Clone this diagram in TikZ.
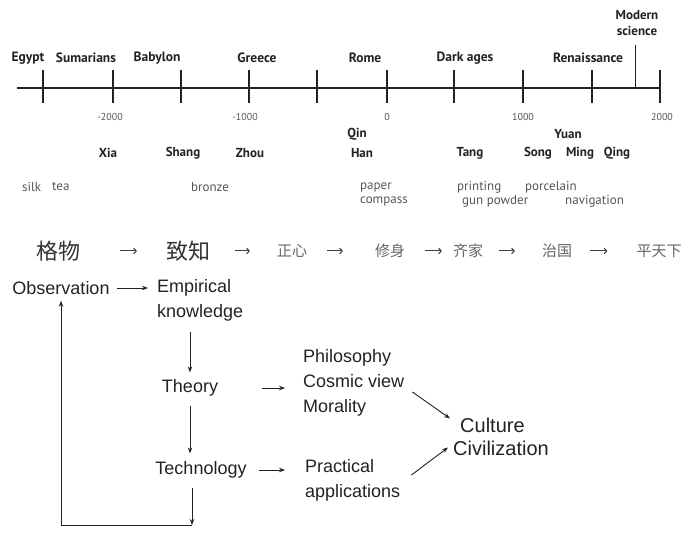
\documentclass[tikz,border=0pt]{standalone}
\usepackage{fontspec}
\setmainfont{Liberation Sans}
\newfontfamily\tlfont{PT Sans}
\newfontfamily\cjk{Noto Sans CJK SC}
\usetikzlibrary{arrows.meta,calc}
\definecolor{ink}{HTML}{222222}
\definecolor{soft}{HTML}{555555}
\begin{document}
\begin{tikzpicture}[x=1pt,y=-1pt,
  every node/.style={inner sep=0pt, text=ink},
  era/.style={font=\tlfont\bfseries\fontsize{13.5}{15}\selectfont},
  yr/.style={font=\tlfont\fontsize{10}{11}\selectfont, text=soft},
  dyn/.style={font=\tlfont\bfseries\fontsize{13}{14}\selectfont},
  inv/.style={font=\tlfont\fontsize{13}{14}\selectfont, anchor=west, text=soft},
  tline/.style={line width=2pt, draw=ink},
  tick/.style={line width=2pt, draw=ink},
  cnbig/.style={font=\cjk\fontsize{22}{24}\selectfont, text=black!80},
  cnsmall/.style={font=\cjk\fontsize{15}{17}\selectfont, text=black!60},
  cnar/.style 2 args={draw=black!75, line width=1pt, -{To[length=3.5pt,width=6pt]}, shorten <=#1pt, shorten >=#2pt},
  word/.style={font=\fontsize{18}{25}\selectfont, align=left},
  flow/.style={draw=ink, line width=0.9pt, -{Stealth[length=6pt,width=4.5pt]}}
]
\useasboundingbox (0,0) rectangle (697,534);

% ---------- timeline ----------
\draw[tline] (17,88) -- (660,88);
\foreach \x in {43,113,181,249,317,387,454,523,592,660}
  \draw[tick] (\x,70) -- (\x,103);
\draw[draw=ink, line width=0.8pt] (635,45) -- (635,88);

\node[era] (egypt) at (28,58) {Egypt};
\node[era] (sum) at (86,58) {Sumarians};
\node[era] (bab) at (157,58) {Babylon};
\node[era] (gre) at (257,58) {Greece};
\node[era] (rome) at (365,58) {Rome};
\node[era] (dark) at (465,58) {Dark ages};
\node[era] (ren) at (588,58) {Renaissance};
\node[era, align=center, font=\tlfont\bfseries\fontsize{13}{16}\selectfont] (mod) at (637,23) {Modern\\science};

\node[yr] (y1) at (110,117) {-2000};
\node[yr] (y2) at (245,117) {-1000};
\node[yr] (y3) at (387,117) {0};
\node[yr] (y4) at (523,117) {1000};
\node[yr] (y5) at (662,117) {2000};

\node[dyn] (qin) at (357,134) {Qin};
\node[dyn] (yuan) at (568,134) {Yuan};
\node[dyn] (xia) at (108,153) {Xia};
\node[dyn] (shang) at (183,153) {Shang};
\node[dyn] (zhou) at (250,153) {Zhou};
\node[dyn] (han) at (362,153) {Han};
\node[dyn] (tang) at (470,153) {Tang};
\node[dyn] (song) at (538,153) {Song};
\node[dyn] (ming) at (580,153) {Ming};
\node[dyn] (qing) at (617,153) {Qing};

\node[inv] (silk) at (22,187) {silk};
\node[inv] (tea) at (52,187) {tea};
\node[inv] (bronze) at (191,187) {bronze};
\node[inv] (paper) at (360,187) {paper};
\node[inv] (compass) at (360,201) {compass};
\node[inv] (printing) at (457,187) {printing};
\node[inv] (gun) at (462,201) {gun powder};
\node[inv] (porc) at (525,187) {porcelain};
\node[inv] (nav) at (565,201) {navigation};

% ---------- Chinese row ----------
\node[cnbig] (g1) at (58,251) {格物};
\node[cnbig] (g2) at (188,251) {致知};
\node[cnsmall] (g3) at (292,251) {正心};
\node[cnsmall] (g4) at (390,251) {修身};
\node[cnsmall] (g5) at (468,251) {齐家};
\node[cnsmall] (g6) at (557,251) {治国};
\node[cnsmall] (g7) at (659,251) {平天下};

\draw[cnar={40}{29}] (g1.east) -- (g2.west);
\draw[cnar={25}{27}] (g2.east) -- (g3.west);
\draw[cnar={20}{32}] (g3.east) -- (g4.west);
\draw[cnar={20}{11}] (g4.east) -- (g5.west);
\draw[cnar={16}{27}] (g5.east) -- (g6.west);
\draw[cnar={18}{29}] (g6.east) -- (g7.west);

% ---------- flow ----------
\node[word] (obs) at (61,288) {Observation};
\node[word, anchor=west] (emp) at (157,300.5) {Empirical\\knowledge};
\node[word] (theory) at (190,388) {Theory};
\node[word] (tech) at (201,470) {Technology};
\node[word, anchor=west] (phil) at (303,383) {Philosophy\\Cosmic view\\Morality};
\node[word, anchor=west] (prac) at (305,480) {Practical\\applications};
\node[word, anchor=west, font=\fontsize{20}{23}\selectfont] (cult) at (453,436.5) {\hspace*{7pt}Culture\\Civilization};
\coordinate (loop) at (192,525);

\draw[flow, shorten <=7pt, shorten >=9pt] (obs.east) -- (obs.east -| emp.west);
\draw[flow, shorten <=10pt, shorten >=7pt] (theory |- emp.south) -- (theory.north);
\draw[flow, shorten <=9pt, shorten >=8pt] (theory.south) -- (theory |- tech.north);
\draw[flow, shorten <=9pt] (loop |- tech.south) -- (loop);
\draw[flow, shorten >=6pt] (loop) -| (obs.south);
\draw[flow, shorten <=44pt, shorten >=18pt] (theory.east) -- (phil.west |- theory);
\draw[flow, shorten <=12pt, shorten >=20pt] (tech.east) -- (prac.west |- tech);
\draw[flow] ([shift={(8,9)}]phil.east) -- ([shift={(-3,-18)}]cult.west);
\draw[flow] ([shift={(11,-5)}]prac.east) -- ([shift={(-5,11)}]cult.west);
\end{tikzpicture}
\end{document}
